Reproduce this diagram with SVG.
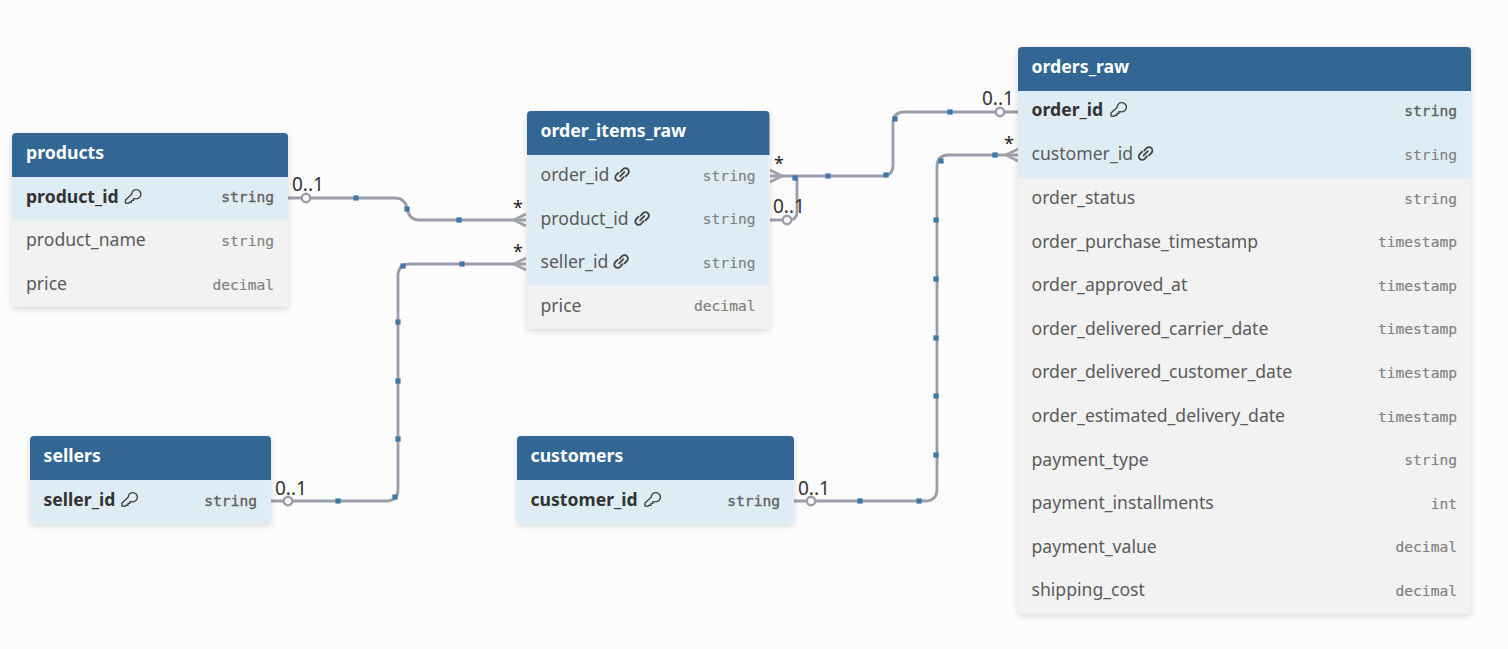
<svg xmlns="http://www.w3.org/2000/svg" width="1508" height="649" viewBox="0 0 1508 649">
<style>
.hd{fill:#316695}.fk{fill:#deedf5}.rw{fill:#f2f2f2}
.t{font-family:"Noto Sans",sans-serif;font-size:17.7px;fill:#fff;font-weight:700}
.n{font-family:"Noto Sans",sans-serif;font-size:17.6px;fill:#5a5a5a}
.p{font-family:"Noto Sans",sans-serif;font-size:17.6px;fill:#333;font-weight:700}
.y{font-family:"DejaVu Sans Mono",monospace;font-size:14.6px;fill:#808080;text-anchor:end;stroke:#808080;stroke-width:.15}
.yp{font-family:"DejaVu Sans Mono",monospace;font-size:14.6px;fill:#5f5f5f;text-anchor:end;stroke:#5f5f5f;stroke-width:.35}
.c{fill:none;stroke:#9b9dab;stroke-width:2.8}
.f{fill:none;stroke:#a0a1aa;stroke-width:2.8}
.o{fill:#fcfcfc;stroke:#9b9dab;stroke-width:2.4}
.d{fill:#3f78a8}
.l{font-family:"Noto Sans",sans-serif;font-size:19px;fill:#333}
.s{font-family:"Noto Sans",sans-serif;font-size:18px;fill:#222}
.i{fill:none;stroke:#444;stroke-width:1.4;stroke-linejoin:round;stroke-linecap:round}
.k{fill:none;stroke:#444;stroke-width:1.8;stroke-linejoin:round;stroke-linecap:round}
</style>
<defs>
<filter id="sh" x="-10%" y="-10%" width="120%" height="120%"><feDropShadow dx="0" dy="2" stdDeviation="3" flood-color="#000" flood-opacity="0.14"/></filter>
<g id="key"><path class="i" d="M1 14 L1 11 L7.2 5.2 A4.6 4.6 0 1 1 10.4 9.6 L9 9.6 L9 11.4 L7 11.4 L7 13.2 L5 13.2 L4 14.4 Z"/></g>
<g id="lnk"><path class="k" d="M5.6 9.4 L9.8 5.2 M6.2 4.6 L8.6 2.2 A3.3 3.3 0 0 1 13.4 7 L11 9.4 M9 10.2 L6.6 12.8 A3.3 3.3 0 0 1 1.8 8 L4.2 5.6"/></g>
<g id="dot"><rect class="d" x="-2.6" y="-2.6" width="5.2" height="5.2"/></g>
</defs>
<rect width="1508" height="649" fill="#fcfcfc"/>

<g id="connectors">
<path class="c" d="M288 198H395Q405 198 407 208Q409 220 419 220H526"/>
<path class="c" d="M271 501H386Q398 501 398 489V276Q398 264 410 264H526"/>
<path class="c" d="M770 176H882Q893 176 893 165V123Q893 112 905 112H1018"/>
<path class="c" d="M770 220H789Q797 220 797 212V177"/>
<path class="c" d="M794 501H925Q937 501 937 489V167Q937 155 949 155H1018"/>
<path class="f" d="M526 214L514 220L526 226M526 258L514 264L526 270M770 170L782 176L770 182M1018 149L1006 155L1018 161"/>
<circle class="o" cx="306" cy="198" r="4.2"/><circle class="o" cx="288" cy="501" r="4.2"/>
<circle class="o" cx="1000" cy="112" r="4.2"/><circle class="o" cx="787" cy="220" r="4.2"/><circle class="o" cx="811" cy="501" r="4.2"/>
<use href="#dot" x="356" y="198"/><use href="#dot" x="407" y="209"/><use href="#dot" x="459" y="220"/>
<use href="#dot" x="338" y="501"/><use href="#dot" x="395" y="497"/><use href="#dot" x="398" y="439"/><use href="#dot" x="398" y="381"/><use href="#dot" x="398" y="322"/><use href="#dot" x="403" y="266"/><use href="#dot" x="462" y="264"/>
<use href="#dot" x="795" y="178"/><use href="#dot" x="828" y="176"/><use href="#dot" x="886" y="175"/><use href="#dot" x="895" y="119"/><use href="#dot" x="950" y="112"/>
<use href="#dot" x="860" y="501"/><use href="#dot" x="919" y="501"/><use href="#dot" x="936" y="455"/><use href="#dot" x="936" y="396"/><use href="#dot" x="936" y="338"/><use href="#dot" x="936" y="279"/><use href="#dot" x="936" y="220"/><use href="#dot" x="941" y="161"/><use href="#dot" x="995" y="155"/>
<text class="l" x="292" y="191">0..1</text><text class="l" x="275" y="495">0..1</text><text class="l" x="773" y="213">0..1</text><text class="l" x="798" y="495">0..1</text><text class="l" x="982" y="105">0..1</text>
<text class="s" x="513" y="214">*</text><text class="s" x="513" y="258">*</text><text class="s" x="774" y="170">*</text><text class="s" x="1004" y="150">*</text>
</g>

<g id="products">
<rect x="12" y="133" width="276" height="174" rx="4" class="rw" filter="url(#sh)"/>
<path class="hd" d="M12 177V137a4 4 0 0 1 4-4H284a4 4 0 0 1 4 4V177Z"/>
<rect class="fk" x="12" y="177" width="276" height="43.5"/>
<text class="t" x="26" y="159">products</text>
<text class="p" x="26" y="202.500">product_id</text><use href="#key" x="124.500" y="189"/><text class="yp" x="274" y="202">string</text>
<text class="n" x="26" y="246">product_name</text><text class="y" x="274" y="246">string</text>
<text class="n" x="26" y="290">price</text><text class="y" x="274" y="290">decimal</text>
</g>

<g id="order_items_raw">
<rect x="527" y="111" width="242.500" height="218" rx="4" class="rw" filter="url(#sh)"/>
<path class="hd" d="M527 155V115a4 4 0 0 1 4-4H765.500a4 4 0 0 1 4 4V155Z"/>
<rect class="fk" x="527" y="155" width="242.500" height="130"/>
<text class="t" x="540.500" y="137">order_items_raw</text>
<text class="n" x="540.500" y="181">order_id</text><use href="#lnk" x="614.500" y="167"/><text class="y" x="755.500" y="181">string</text>
<text class="n" x="540.500" y="224.500">product_id</text><use href="#lnk" x="634.500" y="211"/><text class="y" x="755.500" y="224">string</text>
<text class="n" x="540.500" y="268">seller_id</text><use href="#lnk" x="613.500" y="254"/><text class="y" x="755.500" y="268">string</text>
<text class="n" x="540.500" y="311.500">price</text><text class="y" x="755.500" y="311">decimal</text>
</g>

<g id="sellers">
<rect x="30" y="436" width="241" height="88" rx="4" class="fk" filter="url(#sh)"/>
<path class="hd" d="M30 480V440a4 4 0 0 1 4-4H267a4 4 0 0 1 4 4V480Z"/>
<text class="t" x="43.500" y="462">sellers</text>
<text class="p" x="43.500" y="506">seller_id</text><use href="#key" x="121" y="492"/><text class="yp" x="257" y="506">string</text>
</g>

<g id="customers">
<rect x="517" y="436" width="277" height="88" rx="4" class="fk" filter="url(#sh)"/>
<path class="hd" d="M517 480V440a4 4 0 0 1 4-4H790a4 4 0 0 1 4 4V480Z"/>
<text class="t" x="530.500" y="462">customers</text>
<text class="p" x="530.500" y="506">customer_id</text><use href="#key" x="644" y="492"/><text class="yp" x="780" y="506">string</text>
</g>

<g id="orders_raw">
<rect x="1018" y="47" width="453" height="567" rx="4" class="rw" filter="url(#sh)"/>
<path class="hd" d="M1018 91V51a4 4 0 0 1 4-4H1467a4 4 0 0 1 4 4V91Z"/>
<rect class="fk" x="1018" y="91" width="453" height="87"/>
<text class="t" x="1031.500" y="73">orders_raw</text>
<text class="p" x="1031.500" y="116">order_id</text><use href="#key" x="1110" y="102"/><text class="yp" x="1457" y="116">string</text>
<text class="n" x="1031.500" y="160">customer_id</text><use href="#lnk" x="1138" y="146"/><text class="y" x="1457" y="160">string</text>
<text class="n" x="1031.500" y="204">order_status</text><text class="y" x="1457" y="204">string</text>
<text class="n" x="1031.500" y="247.500">order_purchase_timestamp</text><text class="y" x="1457" y="247">timestamp</text>
<text class="n" x="1031.500" y="291">order_approved_at</text><text class="y" x="1457" y="291">timestamp</text>
<text class="n" x="1031.500" y="334.500">order_delivered_carrier_date</text><text class="y" x="1457" y="334">timestamp</text>
<text class="n" x="1031.500" y="378">order_delivered_customer_date</text><text class="y" x="1457" y="378">timestamp</text>
<text class="n" x="1031.500" y="422">order_estimated_delivery_date</text><text class="y" x="1457" y="422">timestamp</text>
<text class="n" x="1031.500" y="465.500">payment_type</text><text class="y" x="1457" y="465">string</text>
<text class="n" x="1031.500" y="509">payment_installments</text><text class="y" x="1457" y="509">int</text>
<text class="n" x="1031.500" y="552.500">payment_value</text><text class="y" x="1457" y="552">decimal</text>
<text class="n" x="1031.500" y="596">shipping_cost</text><text class="y" x="1457" y="596">decimal</text>
</g>
</svg>
